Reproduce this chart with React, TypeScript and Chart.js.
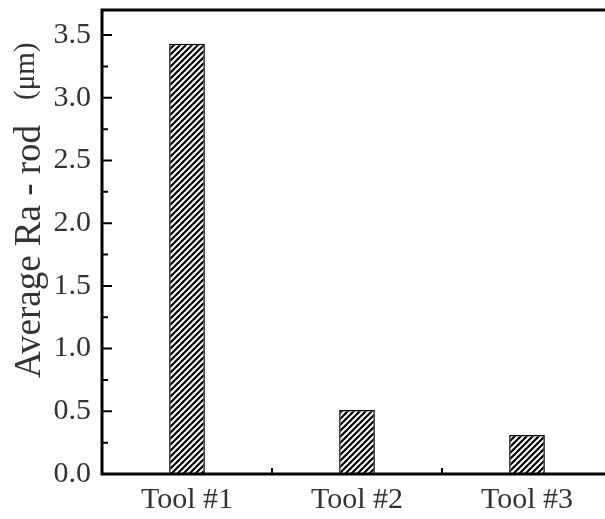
import React, { useEffect, useRef } from "react";
import { Chart, registerables } from "chart.js";
Chart.register(...registerables);

const categories = ["Tool #1", "Tool #2", "Tool #3"];
const avgRa = [3.43, 0.51, 0.31];
const yMajorTicks = [0, 0.5, 1.0, 1.5, 2.0, 2.5, 3.0, 3.5];
const yMinorTicks = [0.25, 0.75, 1.25, 1.75, 2.25, 2.75, 3.25];
const yTitleMain = "Average Ra - rod";
const yTitleUnit = "(μm)";

const FONT = "'Liberation Serif', 'Times New Roman', serif";
const TEXT = "#333333";

function makeHatch(): CanvasPattern | string {
  const c = document.createElement("canvas");
  c.width = 6;
  c.height = 6;
  const g = c.getContext("2d");
  if (!g) return "#555";
  g.fillStyle = "#000";
  g.fillRect(0, 0, 6, 6);
  g.strokeStyle = "#fff";
  g.lineWidth = 2;
  g.beginPath();
  g.moveTo(-1, 7);
  g.lineTo(7, -1);
  g.moveTo(-1, 1);
  g.lineTo(1, -1);
  g.moveTo(5, 7);
  g.lineTo(7, 5);
  g.stroke();
  return g.createPattern(c, "repeat") || "#555";
}

const framePlugin = {
  id: "frame",
  afterDraw(chart: any) {
    const { ctx, chartArea: a, scales } = chart;
    const ys = scales.y;
    const xs = scales.x;
    ctx.save();
    ctx.strokeStyle = "#000";
    ctx.lineWidth = 3;
    ctx.beginPath();
    ctx.moveTo(a.left, a.top);
    ctx.lineTo(a.left, a.bottom);
    ctx.lineTo(a.right, a.bottom);
    ctx.lineTo(a.right, a.top);
    ctx.closePath();
    ctx.stroke();

    ctx.lineWidth = 2;
    ctx.beginPath();
    yMajorTicks.forEach((v) => {
      const p = ys.getPixelForValue(v);
      ctx.moveTo(a.left, p);
      ctx.lineTo(a.left + 10, p);
    });
    yMinorTicks.forEach((v) => {
      const p = ys.getPixelForValue(v);
      ctx.moveTo(a.left, p);
      ctx.lineTo(a.left + 6, p);
    });
    for (let i = 0; i < categories.length - 1; i++) {
      const p = (xs.getPixelForValue(i) + xs.getPixelForValue(i + 1)) / 2;
      ctx.moveTo(p, a.bottom);
      ctx.lineTo(p, a.bottom - 6);
    }
    ctx.stroke();

    // y-axis title
    ctx.fillStyle = TEXT;
    ctx.textAlign = "left";
    ctx.textBaseline = "alphabetic";
    ctx.save();
    ctx.translate(a.left - 62, a.bottom - 96);
    ctx.rotate(-Math.PI / 2);
    ctx.font = `37px ${FONT}`;
    ctx.fillText(yTitleMain, 0, 0);
    ctx.restore();
    ctx.save();
    ctx.translate(a.left - 68, a.top + 90);
    ctx.rotate(-Math.PI / 2);
    ctx.font = `29px ${FONT}`;
    ctx.fillText(yTitleUnit, 0, 0);
    ctx.restore();
    ctx.restore();
  },
};

export default function App() {
  const ref = useRef<HTMLCanvasElement>(null);
  useEffect(() => {
    if (!ref.current) return;
    const hatch = makeHatch();
    const chart = new Chart(ref.current, {
      type: "bar",
      data: {
        labels: categories,
        datasets: [
          {
            data: avgRa,
            backgroundColor: hatch as any,
            borderColor: "#000",
            borderWidth: 1.5,
            barPercentage: 0.21,
            categoryPercentage: 1,
          },
        ],
      },
      options: {
        responsive: false,
        animation: false,
        devicePixelRatio: 1,
        layout: { padding: { left: 0, right: 0, top: 10, bottom: 0 } },
        plugins: { legend: { display: false }, tooltip: { enabled: false } },
        scales: {
          x: {
            grid: { display: false },
            border: { display: false },
            ticks: {
              font: { family: FONT, size: 30 },
              color: TEXT,
              padding: 0,
              maxRotation: 0,
            },
            afterFit(scale: any) {
              scale.height = 45;
              scale.paddingLeft = 0;
              scale.paddingRight = 0;
            },
          },
          y: {
            min: 0,
            max: 3.7,
            grid: { display: false },
            border: { display: false },
            afterBuildTicks(scale: any) {
              scale.ticks = yMajorTicks.map((v) => ({ value: v }));
            },
            afterFit(scale: any) {
              scale.width = 102;
              scale.paddingTop = 0;
              scale.paddingBottom = 0;
            },
            ticks: {
              font: { family: FONT, size: 30 },
              color: TEXT,
              padding: 3,
              callback: (v: any) => Number(v).toFixed(1),
            },
          },
        },
      },
      plugins: [framePlugin],
    });
    return () => chart.destroy();
  }, []);
  return (
    <div
      style={{
        position: "fixed",
        left: 0,
        top: 0,
        width: 605,
        height: 519,
        overflow: "hidden",
        background: "#fff",
      }}
    >
      <canvas ref={ref} width={612} height={519} />
    </div>
  );
}
